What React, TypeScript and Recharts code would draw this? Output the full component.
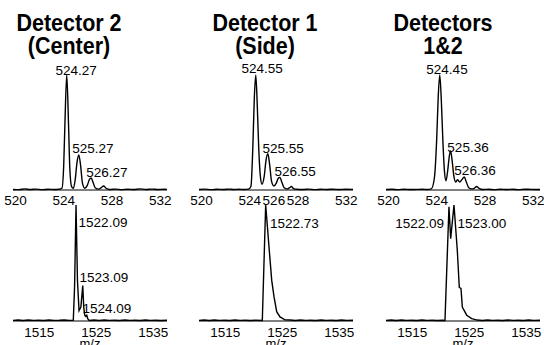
import React from 'react';
import { LineChart, Line, XAxis, YAxis, ReferenceDot } from 'recharts';

const FONT = "Arial, 'Liberation Sans', Helvetica, sans-serif";

// ---------- titles ----------
const titles: string[][] = [
  ['Detector 2', '(Center)'],
  ['Detector 1', '(Side)'],
  ['Detectors', '1&2'],
];

// ---------- tick labels ----------
const topTicks = [520, 524, 528, 532];
const topTicksSide = [520, 524, 526, 528, 532];
const bottomTicks = [1515, 1525, 1535];
const topDomain = [519.8, 532.55];
const bottomDomain = [1510.4, 1537.4];

// ---------- top row spectra (m/z 520-532) ----------
const centerTopMz = [519.8, 520.3, 520.8, 521.2, 521.7, 522.2, 522.7, 523.2, 523.6, 523.85, 524.0, 524.1, 524.25, 524.4, 524.5, 524.65, 524.8, 524.95, 525.1, 525.25, 525.4, 525.55, 525.75, 525.95, 526.12, 526.27, 526.42, 526.6, 526.9, 527.1, 527.3, 527.5, 527.8, 528.3, 528.8, 529.3, 529.8, 530.3, 530.8, 531.3, 531.8, 532.3, 532.55];
const centerTopInt = [0.5, 0.3, 1.0, 0.4, 0.8, 0.3, 0.6, 0.4, 0.6, 1.5, 22, 58, 100, 56, 20, 3, 1.5, 9, 24, 30.5, 21, 6, 1.5, 4, 9, 10.5, 7, 2, 0.8, 2, 3.5, 1.5, 0.5, 0.8, 0.3, 0.7, 0.4, 1.0, 0.5, 0.8, 0.4, 0.6, 0.5];

const sideTopMz = [519.8, 520.3, 520.8, 521.3, 521.8, 522.3, 522.7, 523.1, 523.5, 523.9, 524.1, 524.25, 524.38, 524.5, 524.62, 524.75, 524.9, 525.02, 525.2, 525.35, 525.5, 525.65, 525.8, 526.0, 526.2, 526.35, 526.5, 526.65, 526.85, 527.1, 527.3, 527.45, 527.6, 527.9, 528.4, 528.9, 529.4, 529.9, 530.4, 530.9, 531.4, 531.9, 532.55];
const sideTopInt = [0.4, 0.8, 0.3, 0.6, 0.4, 0.8, 0.5, 0.6, 0.5, 0.8, 3, 35, 80, 100, 75, 35, 10, 5, 12, 26, 31.5, 22, 8, 3.5, 6, 10, 11, 7, 2, 1, 2, 3, 1.5, 0.6, 0.4, 0.8, 0.3, 0.6, 0.5, 0.7, 0.4, 0.6, 0.5];

const bothTopMz = [519.8, 520.3, 520.8, 521.3, 521.8, 522.3, 522.8, 523.2, 523.55, 523.8, 524.0, 524.12, 524.25, 524.38, 524.52, 524.65, 524.77, 524.92, 525.05, 525.15, 525.28, 525.42, 525.57, 525.72, 525.9, 526.08, 526.28, 526.45, 526.65, 526.9, 527.1, 527.3, 527.5, 527.8, 528.3, 528.8, 529.3, 529.8, 530.3, 530.8, 531.3, 531.8, 532.3, 532.55];
const bothTopInt = [0.4, 0.6, 0.3, 0.7, 0.4, 0.5, 0.6, 0.4, 1, 10, 45, 80, 100, 78, 40, 15, 8, 18, 30, 34, 25, 12, 7, 9, 7, 9, 11.3, 7, 2, 1, 1.5, 3, 1.5, 0.5, 0.6, 0.3, 0.7, 0.4, 0.6, 0.3, 0.7, 0.5, 0.4, 0.5];

// ---------- bottom row spectra (m/z 1515-1535) ----------
const centerBotMz = [1510.4, 1511.3, 1512.2, 1513.1, 1514.0, 1514.9, 1515.8, 1516.7, 1517.6, 1518.5, 1519.4, 1520.3, 1520.97, 1521.2, 1521.45, 1521.7, 1521.98, 1522.3, 1522.63, 1522.8, 1522.98, 1523.15, 1523.33, 1523.5, 1523.75, 1524.6, 1525.5, 1526.4, 1527.3, 1528.2, 1529.1, 1530.0, 1530.9, 1531.8, 1532.7, 1533.6, 1534.5, 1535.4, 1536.3, 1537.4];
const centerBotInt = [0.5, 0.9, 0.4, 0.8, 0.5, 0.7, 0.4, 0.9, 0.5, 0.6, 0.8, 0.5, 0.6, 30, 100, 35, 9, 12, 30.5, 12, 5, 4, 5, 2, 0.5, 0.9, 0.4, 0.8, 0.5, 0.7, 0.4, 0.9, 0.5, 0.7, 0.4, 0.8, 0.5, 0.7, 0.4, 0.6];

const sideBotMz = [1510.4, 1511.3, 1512.2, 1513.1, 1514.0, 1514.9, 1515.8, 1516.7, 1517.6, 1518.5, 1519.4, 1520.3, 1521.5, 1522.09, 1522.72, 1523.15, 1523.55, 1524.02, 1524.6, 1525.48, 1526.4, 1527.3, 1528.2, 1529.1, 1530.0, 1530.9, 1531.8, 1532.7, 1533.6, 1534.5, 1535.4, 1536.3, 1537.4];
const sideBotInt = [0.5, 0.8, 0.4, 0.9, 0.5, 0.7, 0.4, 0.8, 0.5, 0.7, 0.4, 0.6, 0.5, 100, 61, 35, 21, 8, 3.5, 1, 0.8, 0.4, 0.9, 0.5, 0.7, 0.4, 0.8, 0.5, 0.7, 0.4, 0.8, 0.5, 0.6];

const bothBotMz = [1510.4, 1511.3, 1512.2, 1513.1, 1514.0, 1514.9, 1515.8, 1516.7, 1517.6, 1518.5, 1519.4, 1520.3, 1520.74, 1521.44, 1521.74, 1522.32, 1522.9, 1523.25, 1523.55, 1523.78, 1524.55, 1525.42, 1526.4, 1527.3, 1528.2, 1529.1, 1530.0, 1530.9, 1531.8, 1532.7, 1533.6, 1534.5, 1535.4, 1536.3, 1537.4];
const bothBotInt = [0.5, 0.8, 0.4, 0.9, 0.5, 0.7, 0.4, 0.8, 0.5, 0.7, 0.4, 0.6, 0.5, 98.5, 71, 100, 61, 29, 28, 12, 5, 2, 0.8, 0.4, 0.9, 0.5, 0.7, 0.4, 0.8, 0.5, 0.7, 0.4, 0.8, 0.5, 0.6];

// ---------- peak labels (text, and anchor of text centre in data units) ----------
const centerTopLabels = ['524.27', '525.27', '526.27'];
const centerTopLabelMz = [525.02, 526.42, 527.58];
const centerTopLabelInt = [104.3, 36.5, 15.7];

const sideTopLabels = ['524.55', '525.55', '526.55'];
const sideTopLabelMz = [525.02, 526.76, 527.75];
const sideTopLabelInt = [106, 36.5, 16.5];

const bothTopLabels = ['524.45', '525.36', '526.36'];
const bothTopLabelMz = [524.85, 526.59, 527.17];
const bothTopLabelInt = [105, 37.4, 17.4];

const centerBotLabels = ['1522.09', '1523.09', '1524.09'];
const centerBotLabelMz = [1526.18, 1526.35, 1526.88];
const centerBotLabelInt = [85.3, 37.9, 11.2];

const sideBotLabels = ['1522.73'];
const sideBotLabelMz = [1527.14];
const sideBotLabelInt = [84.2];

const bothBotLabels = ['1522.09', '1523.00'];
const bothBotLabelMz = [1516.31, 1527.23];
const bothBotLabelInt = [84.5, 84.5];

const zip = (mz: number[], it: number[]) => mz.map((m, i) => ({ mz: m, y: it[i] }));

type PanelProps = {
  mz: number[];
  it: number[];
  labels: string[];
  labelMz: number[];
  labelInt: number[];
  domain: number[];
  ticks: number[];
  left: number;
  top: number;
  plotH: number;
  axisH: number;
  tickMargin: number;
  curve: 'monotone' | 'linear';
  showMz?: boolean;
};

const W = 154;
const MT = 20;
const MS = 30;

function Panel(p: PanelProps) {
  const data = zip(p.mz, p.it);
  return (
    <div style={{ position: 'absolute', left: p.left - MS, top: p.top - MT }}>
      <LineChart
        width={W + 2 * MS}
        height={MT + p.plotH + p.axisH}
        data={data}
        margin={{ top: MT, right: MS, bottom: 0, left: MS }}
      >
        <XAxis
          type="number"
          dataKey="mz"
          domain={p.domain}
          ticks={p.ticks}
          interval={0}
          allowDataOverflow
          tickLine={false}
          tickSize={2}
          tickMargin={p.tickMargin}
          axisLine={{ stroke: '#000', strokeWidth: 1 }}
          tick={{ fill: '#000', fontSize: 13.5, fontFamily: FONT }}
          height={p.axisH}
          label={
            p.showMz
              ? { value: 'm/z', position: 'insideBottom', offset: 0, fill: '#000', fontSize: 13, fontFamily: FONT }
              : undefined
          }
        />
        <YAxis hide type="number" domain={[0, 100]} />
        <Line
          type={p.curve}
          dataKey="y"
          stroke="#000"
          strokeWidth={1.4}
          dot={false}
          activeDot={false}
          isAnimationActive={false}
        />
        {p.labels.map((t, i) => (
          <ReferenceDot
            key={t + i}
            x={p.labelMz[i]}
            y={p.labelInt[i]}
            r={0}
            ifOverflow="visible"
            stroke="none"
            fill="none"
            label={{ value: t, position: 'center', fill: '#000', fontSize: 13.5, fontFamily: FONT }}
          />
        ))}
      </LineChart>
    </div>
  );
}

const colLeft = [13, 199, 386];
const titleCenter = [69, 265, 443];

export default function App() {
  return (
    <div
      style={{
        position: 'absolute',
        left: 0,
        top: 0,
        width: 544,
        height: 345,
        background: '#fff',
        overflow: 'hidden',
        fontFamily: FONT,
      }}
    >
      {titles.map((lines, i) => (
        <div
          key={i}
          style={{
            position: 'absolute',
            left: titleCenter[i] - 80,
            top: 12,
            width: 160,
            textAlign: 'center',
            fontSize: 21.5,
            fontWeight: 'bold',
            lineHeight: '21px',
            color: '#000',
            transform: 'scaleY(1.1)',
            transformOrigin: 'top center',
          }}
        >
          {lines.map((l, j) => (
            <div key={j}>{l}</div>
          ))}
        </div>
      ))}

      <Panel mz={centerTopMz} it={centerTopInt} labels={centerTopLabels} labelMz={centerTopLabelMz} labelInt={centerTopLabelInt}
        domain={topDomain} ticks={topTicks} left={colLeft[0]} top={75} plotH={115} axisH={25} tickMargin={3} curve="monotone" />
      <Panel mz={sideTopMz} it={sideTopInt} labels={sideTopLabels} labelMz={sideTopLabelMz} labelInt={sideTopLabelInt}
        domain={topDomain} ticks={topTicksSide} left={colLeft[1]} top={75} plotH={115} axisH={25} tickMargin={3} curve="monotone" />
      <Panel mz={bothTopMz} it={bothTopInt} labels={bothTopLabels} labelMz={bothTopLabelMz} labelInt={bothTopLabelInt}
        domain={topDomain} ticks={topTicks} left={colLeft[2]} top={75} plotH={115} axisH={25} tickMargin={3} curve="monotone" />

      <Panel mz={centerBotMz} it={centerBotInt} labels={centerBotLabels} labelMz={centerBotLabelMz} labelInt={centerBotLabelInt}
        domain={bottomDomain} ticks={bottomTicks} left={colLeft[0]} top={205} plotH={116} axisH={27} tickMargin={4} curve="linear" showMz />
      <Panel mz={sideBotMz} it={sideBotInt} labels={sideBotLabels} labelMz={sideBotLabelMz} labelInt={sideBotLabelInt}
        domain={bottomDomain} ticks={bottomTicks} left={colLeft[1]} top={205} plotH={116} axisH={27} tickMargin={4} curve="linear" showMz />
      <Panel mz={bothBotMz} it={bothBotInt} labels={bothBotLabels} labelMz={bothBotLabelMz} labelInt={bothBotLabelInt}
        domain={bottomDomain} ticks={bottomTicks} left={colLeft[2]} top={205} plotH={116} axisH={27} tickMargin={4} curve="linear" showMz />
    </div>
  );
}
